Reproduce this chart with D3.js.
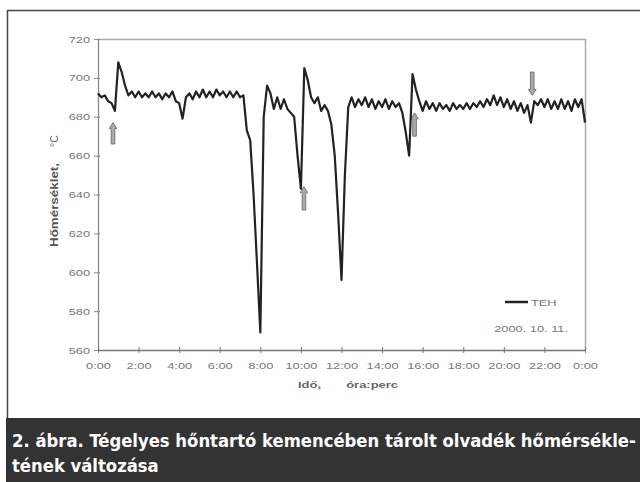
<!DOCTYPE html>
<html>
<head>
<meta charset="utf-8">
<script src="https://cdn.jsdelivr.net/npm/d3@7"></script>
<style>
  html, body { margin: 0; padding: 0; background: #fff; }
  svg { display: block; }
</style>
</head>
<body>
<script>
// Melt temperature in the holding furnace, sampled every 10 minutes over one day
const startHour = 0;
const stepMinutes = 10;
const temperatures = [
  692, 690, 691, 688, 687, 683, 708, 703, 696, 691, 693, 690,   // 0:00 - 1:50
  693, 690, 692, 690, 693, 690, 692, 689, 692, 690, 693, 688,   // 2:00 - 3:50
  687, 679, 690, 692, 689, 693, 690, 694, 690, 693, 690, 694,   // 4:00 - 5:50
  691, 693, 690, 693, 690, 693, 690, 691, 673, 668, 640, 605,   // 6:00 - 7:50
  569, 680, 696, 692, 684, 690, 684, 689, 684, 682, 680, 660,   // 8:00 - 9:50
  643, 705, 699, 690, 687, 690, 683, 686, 683, 676, 660, 630,   // 10:00 - 11:50
  596, 650, 685, 690, 685, 689, 686, 690, 685, 689, 684, 688,   // 12:00 - 13:50
  685, 689, 684, 688, 685, 687, 682, 672, 660, 702, 694, 688,   // 14:00 - 15:50
  683, 688, 684, 687, 683, 687, 684, 686, 683, 687, 684, 686,   // 16:00 - 17:50
  684, 687, 684, 687, 685, 688, 685, 689, 686, 691, 686, 690,   // 18:00 - 19:50
  685, 689, 684, 688, 683, 687, 682, 686, 677, 688, 686, 689,   // 20:00 - 21:50
  685, 689, 684, 688, 684, 689, 684, 688, 683, 689, 685, 689,   // 22:00 - 23:50
  677                                                           // 24:00
];

const xTickHours = [0, 2, 4, 6, 8, 10, 12, 14, 16, 18, 20, 22, 24];
const xTickLabels = ["0:00", "2:00", "4:00", "6:00", "8:00", "10:00", "12:00",
                     "14:00", "16:00", "18:00", "20:00", "22:00", "0:00"];
const yTicks = [560, 580, 600, 620, 640, 660, 680, 700, 720];

// Event markers: hour, value at the tail and at the head
const markerHours = [0.74, 10.15, 15.6, 21.4];
const markerFrom = [666, 632, 670, 703];
const markerTo = [677, 644, 682, 691];

const seriesName = "TEH";
const dateLabel = "2000. 10. 11.";
const yTitleMain = "Hőmérséklet,";
const yTitleUnit = "°C";
const xTitle = "Idő,       óra:perc";
const captionLines = [
  "2. ábra. Tégelyes hőntartó kemencében tárolt olvadék hőmérsékle-",
  "tének változása"
];

const W = 640, H = 482;
const plot = { left: 98, right: 585, top: 39, bottom: 350 };
const stretch = 1.35;   // tick text is drawn horizontally widened
const labelFont = "'Liberation Sans', Arial, sans-serif";

const svg = d3.select("body").append("svg")
  .attr("width", W).attr("height", H);

svg.append("rect").attr("width", W).attr("height", H).attr("fill", "#fff");

// outer frame
svg.append("path")
  .attr("d", "M7.5,419 V10.5 H640")
  .attr("fill", "none").attr("stroke", "#444").attr("stroke-width", 1.5);

const x = d3.scaleLinear().domain([0, 24]).range([plot.left, plot.right]);
const y = d3.scaleLinear().domain([560, 720]).range([plot.bottom, plot.top]);

const points = temperatures.map((v, i) => ({ h: startHour + i * stepMinutes / 60, v }));

// plot area border (top and right)
svg.append("path")
  .attr("d", `M${plot.left},${plot.top + 0.5} H${plot.right + 0.5} V${plot.bottom}`)
  .attr("fill", "none").attr("stroke", "#aaa").attr("stroke-width", 1.5);

// y axis
const yAxis = svg.append("g")
  .attr("transform", `translate(${plot.left},0)`)
  .call(d3.axisLeft(y).tickValues(yTicks).tickSize(4).tickSizeOuter(0).tickFormat(d3.format("d")));
yAxis.select(".domain").attr("stroke", "#888").attr("stroke-width", 1.3);
yAxis.selectAll(".tick line").attr("stroke", "#888").attr("x2", -4).attr("x1", 2);
yAxis.selectAll(".tick text")
  .attr("x", -8 / stretch)
  .attr("transform", `scale(${stretch},1)`)
  .attr("fill", "#777")
  .style("font-family", labelFont)
  .style("font-size", "9.5px");

// x axis
const xAxis = svg.append("g")
  .attr("transform", `translate(0,${plot.bottom})`)
  .call(d3.axisBottom(x).tickValues(xTickHours).tickSize(3).tickSizeOuter(0)
    .tickFormat((d, i) => xTickLabels[i]));
xAxis.select(".domain").attr("stroke", "#777").attr("stroke-width", 1.3);
xAxis.selectAll(".tick line").attr("stroke", "#777").attr("y1", -3).attr("y2", 3);
xAxis.selectAll(".tick text")
  .attr("x", 0)
  .attr("y", 12)
  .attr("transform", `scale(${stretch},1)`)
  .attr("fill", "#777")
  .style("font-family", labelFont)
  .style("font-size", "9.5px");

// event markers (block arrows)
markerHours.forEach((h, i) => {
  const cx = x(h);
  const y0 = y(markerFrom[i]);   // tail
  const y1 = y(markerTo[i]);     // head
  const dir = y1 < y0 ? -1 : 1;
  const headLen = 6 * dir;
  const p = d3.path();
  p.moveTo(cx - 1.8, y0);
  p.lineTo(cx - 1.8, y1 - headLen);
  p.lineTo(cx - 3.8, y1 - headLen);
  p.lineTo(cx, y1);
  p.lineTo(cx + 3.8, y1 - headLen);
  p.lineTo(cx + 1.8, y1 - headLen);
  p.lineTo(cx + 1.8, y0);
  p.closePath();
  svg.append("path").attr("d", p.toString())
    .attr("fill", "#aaa").attr("stroke", "#777").attr("stroke-width", 1);
});

// temperature curve
const line = d3.line().x(d => x(d.h)).y(d => y(d.v));
svg.append("path").datum(points)
  .attr("d", line)
  .attr("fill", "none").attr("stroke", "#222")
  .attr("stroke-width", 2.2).attr("stroke-linejoin", "round");

// legend
svg.append("line")
  .attr("x1", 505).attr("x2", 528).attr("y1", 302).attr("y2", 302)
  .attr("stroke", "#222").attr("stroke-width", 2.5);
svg.append("text")
  .attr("transform", `translate(531,305.5) scale(${stretch},1)`)
  .attr("fill", "#777")
  .style("font-family", labelFont)
  .style("font-size", "9.5px")
  .text(seriesName);
svg.append("text")
  .attr("transform", `translate(568,331.5) scale(${stretch},1)`)
  .attr("text-anchor", "end")
  .attr("fill", "#777")
  .style("font-family", labelFont)
  .style("font-size", "9.5px")
  .text(dateLabel);

// axis titles
svg.append("text")
  .attr("transform", "translate(58,205) rotate(-90)")
  .attr("text-anchor", "middle")
  .attr("fill", "#555")
  .style("font-family", labelFont)
  .style("font-size", "10.5px").style("font-weight", "bold")
  .attr("textLength", 84).attr("lengthAdjust", "spacingAndGlyphs")
  .text(yTitleMain);
svg.append("text")
  .attr("transform", "translate(58,141) rotate(-90)")
  .attr("text-anchor", "middle")
  .attr("fill", "#666")
  .style("font-family", labelFont)
  .style("font-size", "10.5px")
  .text(yTitleUnit);
svg.append("text")
  .attr("x", 348).attr("y", 388)
  .attr("text-anchor", "middle")
  .attr("fill", "#666")
  .style("font-family", labelFont)
  .style("font-size", "9.5px").style("font-weight", "bold")
  .style("white-space", "pre")
  .attr("textLength", 100).attr("lengthAdjust", "spacingAndGlyphs")
  .text(xTitle);

// caption band
svg.append("rect")
  .attr("x", 6).attr("y", 418).attr("width", W - 6).attr("height", H - 418)
  .attr("fill", "#333");
svg.selectAll("text.caption").data(captionLines).join("text")
  .attr("class", "caption")
  .attr("x", 12)
  .attr("y", (d, i) => 447 + i * 25)
  .attr("fill", "#fff")
  .style("font-family", "'DejaVu Sans Condensed', 'DejaVu Sans', sans-serif")
  .style("font-stretch", "condensed")
  .style("font-size", "18.3px").style("font-weight", "bold")
  .text(d => d);
</script>
</body>
</html>
